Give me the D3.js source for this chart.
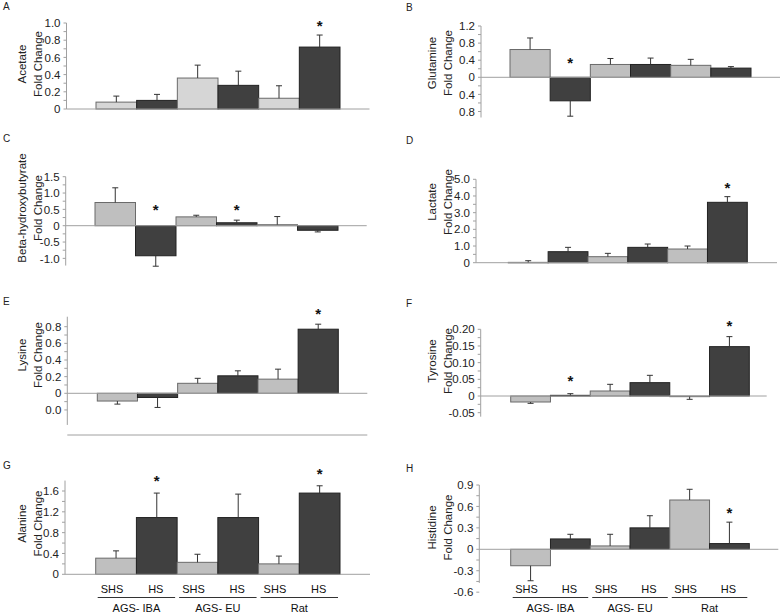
<!DOCTYPE html>
<html>
<head>
<meta charset="utf-8">
<script src="https://cdn.jsdelivr.net/npm/d3@7"></script>
<style>
  html, body { margin: 0; padding: 0; background: #fff; }
  svg { display: block; font-family: "Liberation Sans", Arial, sans-serif; }
</style>
</head>
<body>
<svg id="chart" width="783" height="613"></svg>
<script>
// ---------------- DATA ----------------
const groups = ["AGS- IBA", "AGS- EU", "Rat"];
const conditions = ["SHS", "HS"];
// order of bars: IBA-SHS, IBA-HS, EU-SHS, EU-HS, Rat-SHS, Rat-HS
const acetateMean   = [0.08, 0.10, 0.36, 0.275, 0.125, 0.72];
const acetateErr    = [0.07, 0.07, 0.15, 0.165, 0.145, 0.14];
const acetateStars  = [[5, 1.0]];
const acetateTicks  = [0, 0.2, 0.4, 0.6, 0.8, 1.0];
const acetateLabels = ["0", "0.2", "0.4", "0.6", "0.8", "1.0"];

const glutamineMean   = [0.65, -0.55, 0.30, 0.30, 0.28, 0.215];
const glutamineErr    = [0.27, 0.36, 0.14, 0.15, 0.14, 0.035];
const glutamineStars  = [[1, 0.4]];
const glutamineTicks  = [-0.8, -0.4, 0, 0.4, 0.8, 1.2];
const glutamineLabels = ["0.8", "0.4", "0", "0.4", "0.8", "1.2"];

const bhbMean   = [0.71, -0.92, 0.27, 0.09, 0.03, -0.14];
const bhbErr    = [0.45, 0.32, 0.05, 0.08, 0.25, 0.05];
const bhbStars  = [[1, 0.57], [3, 0.57]];
const bhbTicks  = [-1.0, -0.5, 0, 0.5, 1.0, 1.5];
const bhbLabels = ["-1.0", "-0.5", "0", "0.5", "1.0", "1.5"];

const lactateMean   = [0.02, 0.66, 0.36, 0.92, 0.82, 3.62];
const lactateErr    = [0.10, 0.26, 0.20, 0.20, 0.18, 0.34];
const lactateStars  = [[5, 4.66]];
const lactateTicks  = [0, 1, 2, 3, 4, 5];
const lactateLabels = ["0", "1.0", "2.0", "3.0", "4.0", "5.0"];

const lysineMean   = [-0.093, -0.05, 0.12, 0.21, 0.17, 0.77];
const lysineErr    = [0.037, 0.12, 0.06, 0.06, 0.12, 0.06];
const lysineStars  = [[5, 0.99]];
const lysineTicks  = [-0.2, 0, 0.2, 0.4, 0.6, 0.8];
const lysineLabels = ["0.0", "0", "0.2", "0.4", "0.6", "0.8"];

const tyrosineMean   = [-0.018, 0.002, 0.015, 0.04, -0.002, 0.148];
const tyrosineErr    = [0.004, 0.005, 0.02, 0.022, 0.008, 0.03];
const tyrosineStars  = [[1, 0.053], [5, 0.22]];
const tyrosineTicks  = [-0.05, 0, 0.05, 0.10, 0.15, 0.20];
const tyrosineLabels = ["-0.05", "0", "0.05", "0.10", "0.15", "0.20"];

const alanineMean   = [0.31, 1.09, 0.23, 1.09, 0.20, 1.56];
const alanineErr    = [0.14, 0.47, 0.155, 0.45, 0.15, 0.14];
const alanineStars  = [[1, 1.85], [5, 1.99]];
const alanineTicks  = [0, 0.4, 0.8, 1.2, 1.6];
const alanineLabels = ["0", "0.4", "0.8", "1.2", "1.6"];

const histidineMean   = [-0.23, 0.145, 0.047, 0.30, 0.69, 0.08];
const histidineErr    = [0.21, 0.065, 0.163, 0.17, 0.15, 0.30];
const histidineStars  = [[5, 0.55]];
const histidineTicks  = [-0.6, -0.3, 0, 0.3, 0.6, 0.9];
const histidineLabels = ["-0.6", "-0.3", "0", "0.3", "0.6", "0.9"];

// ---------------- LAYOUT (positions & styles) ----------------
const panels = [
  {letter:"A", name:"Acetate", mean:acetateMean, err:acetateErr, stars:acetateStars, ticks:acetateTicks, labels:acetateLabels,
   col:0, letterY:9.5, axisX:66.5, zeroPx:109, topVal:1.0, topPx:23, axisTop:1.0, axisBot:0, xLen:303, bx0:96, bx1:340, labelY:64, light:"#d6d6d6"},
  {letter:"B", name:"Glutamine", mean:glutamineMean, err:glutamineErr, stars:glutamineStars, ticks:glutamineTicks, labels:glutamineLabels,
   col:1, letterY:11, axisX:481, zeroPx:77.3, topVal:1.2, topPx:26, axisTop:1.2, axisBot:-0.94, xLen:299, bx0:510, bx1:751, labelY:63, light:"#bfbfbf"},
  {letter:"C", name:"Beta-hydroxybutyrate", mean:bhbMean, err:bhbErr, stars:bhbStars, ticks:bhbTicks, labels:bhbLabels,
   col:0, letterY:142, axisX:65.7, zeroPx:225.7, topVal:1.5, topPx:176.7, axisTop:1.5, axisBot:-1.22, xLen:301, bx0:95, bx1:338, labelY:208, light:"#bfbfbf"},
  {letter:"D", name:"Lactate", mean:lactateMean, err:lactateErr, stars:lactateStars, ticks:lactateTicks, labels:lactateLabels,
   col:1, letterY:143.5, axisX:476, zeroPx:262.7, topVal:5, topPx:179.3, axisTop:5, axisBot:0, xLen:301, bx0:508.3, bx1:747.3, labelY:202, light:"#bfbfbf"},
  {letter:"E", name:"Lysine", mean:lysineMean, err:lysineErr, stars:lysineStars, ticks:lysineTicks, labels:lysineLabels,
   col:0, letterY:304.5, axisX:67.3, zeroPx:393.3, topVal:0.8, topPx:326.7, axisTop:0.92, axisBot:-0.38, xLen:300, bx0:97.3, bx1:338.3, labelY:355, light:"#bfbfbf", baseLineY:435},
  {letter:"F", name:"Tyrosine", mean:tyrosineMean, err:tyrosineErr, stars:tyrosineStars, ticks:tyrosineTicks, labels:tyrosineLabels,
   col:1, letterY:306.5, axisX:480.7, zeroPx:396, topVal:0.2, topPx:329.3, axisTop:0.2, axisBot:-0.062, xLen:286, bx0:510.7, bx1:749.3, labelY:361, light:"#bfbfbf"},
  {letter:"G", name:"Alanine", mean:alanineMean, err:alanineErr, stars:alanineStars, ticks:alanineTicks, labels:alanineLabels,
   col:0, letterY:469, axisX:65, zeroPx:574.3, topVal:1.6, topPx:491, axisTop:1.8, axisBot:0, xLen:305, bx0:95.7, bx1:340, labelY:523.5, light:"#bfbfbf", cats:true},
  {letter:"H", name:"Histidine", mean:histidineMean, err:histidineErr, stars:histidineStars, ticks:histidineTicks, labels:histidineLabels,
   col:1, letterY:472, axisX:479.3, zeroPx:549.3, topVal:0.9, topPx:485, axisTop:0.9, axisBot:-0.47, xLen:299, bx0:510.7, bx1:749.3, labelY:527.5, light:"#bfbfbf", cats:true}
];

const colLetterX = [3, 406];
const colLab1X = [21.5, 432];
const colLab2X = [37.5, 448];
const dark = "#404040";
const axisColor = "#a0a0a0";

const svg = d3.select("#chart");
svg.append("rect").attr("width", 783).attr("height", 613).attr("fill", "#fff");

panels.forEach(p => {
  const g = svg.append("g");
  const y = d3.scaleLinear().domain([0, p.topVal]).range([p.zeroPx, p.topPx]);
  const gx = d3.scaleBand().domain(groups).range([p.bx0, p.bx1]).paddingInner(0).paddingOuter(0);
  const cx = d3.scaleBand().domain(conditions).range([0, gx.bandwidth()]).padding(0);

  const bars = [];
  groups.forEach((grp, gi) => conditions.forEach((c, ci) => {
    const i = gi * 2 + ci;
    bars.push({grp, c, i, v: p.mean[i], e: p.err[i], x: gx(grp) + cx(c), w: cx.bandwidth()});
  }));

  // panel letter
  g.append("text").attr("x", colLetterX[p.col]).attr("y", p.letterY)
    .attr("font-size", 10).attr("fill", "#222").text(p.letter);

  // y-axis line
  g.append("line").attr("x1", p.axisX).attr("x2", p.axisX)
    .attr("y1", y(p.axisTop)).attr("y2", y(p.axisBot))
    .attr("stroke", axisColor).attr("stroke-width", 1);

  // ticks (major + minor midway)
  const step = p.ticks[1] - p.ticks[0];
  const minor = [];
  p.ticks.forEach(t => minor.push(t));
  p.ticks.slice(0, -1).forEach(t => minor.push(t + step / 2));
  g.selectAll(null).data(minor).enter().append("line")
    .attr("x1", p.axisX - 3).attr("x2", p.axisX)
    .attr("y1", d => y(d)).attr("y2", d => y(d))
    .attr("stroke", axisColor);

  g.selectAll(null).data(p.ticks).enter().append("text")
    .attr("x", p.axisX - 6).attr("y", d => y(d))
    .attr("dy", "0.36em").attr("text-anchor", "end")
    .attr("font-size", 11.5).attr("fill", "#222")
    .text((d, i) => p.labels[i]);

  // y label (two lines)
  g.append("text").attr("transform", `translate(${colLab1X[p.col] + 4},${p.labelY}) rotate(-90)`)
    .attr("text-anchor", "middle").attr("font-size", 11.5).attr("fill", "#222").text(p.name);
  g.append("text").attr("transform", `translate(${colLab2X[p.col] + 4},${p.labelY}) rotate(-90)`)
    .attr("text-anchor", "middle").attr("font-size", 11.5).attr("fill", "#222").text("Fold Change");

  // bars
  g.selectAll(null).data(bars).enter().append("rect")
    .attr("x", d => d.x).attr("width", d => d.w)
    .attr("y", d => Math.min(y(d.v), y(0)))
    .attr("height", d => Math.max(Math.abs(y(d.v) - y(0)), 0.5))
    .attr("fill", d => d.c === "SHS" ? p.light : dark)
    .attr("stroke", d => d.c === "SHS" ? "#6a6a6a" : "#222")
    .attr("stroke-width", 1);

  // zero line
  g.append("line").attr("x1", p.axisX).attr("x2", p.axisX + p.xLen)
    .attr("y1", y(0)).attr("y2", y(0)).attr("stroke", axisColor);

  if (p.baseLineY) {
    g.append("line").attr("x1", p.axisX).attr("x2", p.axisX + p.xLen)
      .attr("y1", p.baseLineY).attr("y2", p.baseLineY).attr("stroke", axisColor);
  }

  // error bars
  bars.forEach(d => {
    const sgn = d.v < 0 ? -1 : 1;
    const xc = d.x + d.w / 2;
    const end = y(d.v + sgn * d.e);
    g.append("line").attr("x1", xc).attr("x2", xc).attr("y1", y(d.v)).attr("y2", end)
      .attr("stroke", "#333").attr("stroke-width", 1);
    g.append("line").attr("x1", xc - 3).attr("x2", xc + 3).attr("y1", end).attr("y2", end)
      .attr("stroke", "#333").attr("stroke-width", 1);
  });

  // significance stars
  p.stars.forEach(([i, val]) => {
    const d = bars[i];
    g.append("text").attr("x", d.x + d.w / 2).attr("y", y(val) + 8)
      .attr("text-anchor", "middle").attr("font-size", 15).attr("font-weight", "bold")
      .attr("fill", "#111").text("*");
  });

  // category labels
  if (p.cats) {
    bars.forEach(d => {
      g.append("text").attr("x", d.x + d.w / 2 + (d.c === "SHS" ? -4 : -1)).attr("y", 592.5)
        .attr("text-anchor", "middle").attr("font-size", 11).attr("fill", "#111").text(d.c);
    });
    groups.forEach(grp => {
      g.append("line").attr("x1", gx(grp) + 2).attr("x2", gx(grp) + gx.bandwidth() - 2)
        .attr("y1", 597.5).attr("y2", 597.5).attr("stroke", "#333");
      g.append("text").attr("x", gx(grp) + gx.bandwidth() / 2).attr("y", 611.5)
        .attr("text-anchor", "middle").attr("font-size", 11).attr("fill", "#111").text(grp);
    });
  }
});
</script>
</body>
</html>
